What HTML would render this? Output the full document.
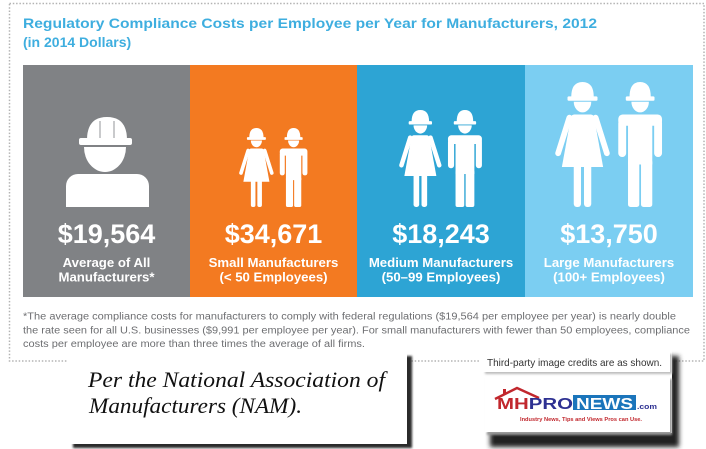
<!DOCTYPE html>
<html>
<head>
<meta charset="utf-8">
<style>
  html,body{margin:0;padding:0;background:#fff;}
  body{width:706px;height:449px;overflow:hidden;}
  svg{display:block;}
  .sans{font-family:"Liberation Sans",Arial,sans-serif;}
  .serif{font-family:"Liberation Serif","Times New Roman",serif;}
</style>
</head>
<body>
<svg width="706" height="449" viewBox="0 0 706 449" xmlns="http://www.w3.org/2000/svg">
  <defs>
    <filter id="blur3" x="-10%" y="-10%" width="120%" height="130%"><feGaussianBlur stdDeviation="2.5"/></filter>
    <filter id="blur1" x="-10%" y="-20%" width="120%" height="150%"><feGaussianBlur stdDeviation="1"/></filter>
    <symbol id="woman" viewBox="0 0 44 100">
      <path d="M13 12 Q13 0 22 0 Q31 0 31 12 Z" fill="#fff"/>
      <rect x="10" y="11.5" width="24" height="3.5" rx="1" fill="#fff"/>
      <path d="M15 15.8 H29 A7 8.5 0 0 1 15 15.8 Z" fill="#fff"/>
      <path d="M15.5 26 H28.5 Q30.8 26 31.3 28.5 L38.5 68 H5.5 L12.7 28.5 Q13.2 26 15.5 26 Z" fill="#fff"/>
      <line x1="11.5" y1="28.5" x2="2.5" y2="57" stroke="#fff" stroke-width="4.6" stroke-linecap="round"/>
      <line x1="32.5" y1="28.5" x2="41.5" y2="57" stroke="#fff" stroke-width="4.6" stroke-linecap="round"/>
      <rect x="15" y="64" width="5.8" height="36" rx="2.5" fill="#fff"/>
      <rect x="23.2" y="64" width="5.8" height="36" rx="2.5" fill="#fff"/>
    </symbol>
    <symbol id="man" viewBox="0 0 37 100">
      <path d="M10 12 Q10 0 18.5 0 Q27 0 27 12 Z" fill="#fff"/>
      <rect x="7" y="11.5" width="23" height="3.5" rx="1" fill="#fff"/>
      <path d="M11.5 15.8 H25.5 A7 8.5 0 0 1 11.5 15.8 Z" fill="#fff"/>
      <rect x="1" y="26" width="35" height="9" rx="3.5" fill="#fff"/>
      <rect x="1" y="30" width="6.3" height="30" rx="3" fill="#fff"/>
      <rect x="29.7" y="30" width="6.3" height="30" rx="3" fill="#fff"/>
      <rect x="8.8" y="30" width="19.4" height="36" fill="#fff"/>
      <rect x="8.8" y="62" width="9" height="38" rx="2" fill="#fff"/>
      <rect x="19.2" y="62" width="9" height="38" rx="2" fill="#fff"/>
    </symbol>
  </defs>

  <!-- dotted border -->
  <rect x="9.5" y="3.5" width="694.5" height="357.5" fill="none" stroke="#b3b3b3" stroke-width="1.5" stroke-dasharray="1.5 1.8"/>

  <!-- title -->
  <text class="sans" x="23" y="28" font-size="14" font-weight="bold" fill="#3eaedf" textLength="574" lengthAdjust="spacingAndGlyphs">Regulatory Compliance Costs per Employee per Year for Manufacturers, 2012</text>
  <text class="sans" x="23" y="47" font-size="14" font-weight="bold" fill="#3eaedf">(in 2014 Dollars)</text>

  <!-- panels -->
  <rect x="23" y="65" width="167" height="232" fill="#808285"/>
  <rect x="190" y="65" width="167" height="232" fill="#f37a21"/>
  <rect x="357" y="65" width="168" height="232" fill="#2da4d4"/>
  <rect x="525" y="65" width="168" height="232" fill="#7bcef2"/>

  <!-- gray worker icon -->
  <path d="M87 140 Q87 117 107 117 Q127 117 127 140 Z" fill="#fff"/>
  <line x1="100" y1="121" x2="100" y2="138" stroke="#a5a7aa" stroke-width="1.2"/>
  <line x1="114" y1="121" x2="114" y2="138" stroke="#a5a7aa" stroke-width="1.2"/>
  <rect x="79" y="138" width="53" height="7" rx="2" fill="#fff"/>
  <path d="M84 147 L126 147 A21 25 0 0 1 84 147 Z" fill="#fff"/>
  <rect x="66" y="174" width="83" height="33" rx="12" fill="#fff"/>
  <rect x="66" y="190" width="83" height="17" fill="#fff"/>

  <!-- people icons -->
  <use href="#woman" x="239" y="128" width="34.8" height="79"/>
  <use href="#man" x="279" y="128" width="29.2" height="79"/>
  <use href="#woman" x="399" y="110" width="42.7" height="97"/>
  <use href="#man" x="447" y="110" width="35.9" height="97"/>
  <use href="#woman" x="555" y="82" width="55" height="125"/>
  <use href="#man" x="617" y="82" width="46.3" height="125"/>

  <!-- numbers -->
  <g class="sans" font-size="27" font-weight="bold" fill="#fff" text-anchor="middle">
    <text x="106.5" y="243">$19,564</text>
    <text x="273.5" y="243">$34,671</text>
    <text x="441" y="243">$18,243</text>
    <text x="609" y="243">$13,750</text>
  </g>
  <g class="sans" font-size="13.2" font-weight="bold" fill="#fff" text-anchor="middle">
    <text x="106.5" y="267">Average of All</text>
    <text x="106.5" y="281.5">Manufacturers*</text>
    <text x="273.5" y="267">Small Manufacturers</text>
    <text x="273.5" y="281.5">(&lt; 50 Employees)</text>
    <text x="441" y="267">Medium Manufacturers</text>
    <text x="441" y="281.5">(50–99 Employees)</text>
    <text x="609" y="267">Large Manufacturers</text>
    <text x="609" y="281.5">(100+ Employees)</text>
  </g>

  <!-- footnote -->
  <g class="sans" font-size="10" fill="#6d6e71">
    <text x="23" y="319.5" textLength="653" lengthAdjust="spacingAndGlyphs">*The average compliance costs for manufacturers to comply with federal regulations ($19,564 per employee per year) is nearly double</text>
    <text x="23" y="333.3" textLength="667" lengthAdjust="spacingAndGlyphs">the rate seen for all U.S. businesses ($9,991 per employee per year). For small manufacturers with fewer than 50 employees, compliance</text>
    <text x="23" y="346.8" textLength="342" lengthAdjust="spacingAndGlyphs">costs per employee are more than three times the average of all firms.</text>
  </g>
  <rect x="15" y="348.6" width="400" height="6" fill="#fff"/>

  <!-- NAM box -->
  <rect x="73" y="356" width="339" height="92" fill="#2a2a2a" filter="url(#blur1)"/>
  <rect x="68" y="351" width="339" height="93" fill="#fff"/>
  <text class="serif" x="88" y="387" font-size="22" font-style="italic" fill="#111" textLength="297" lengthAdjust="spacingAndGlyphs">Per the National Association of</text>
  <text class="serif" x="89" y="413" font-size="22" font-style="italic" fill="#111" textLength="213" lengthAdjust="spacingAndGlyphs">Manufacturers (NAM).</text>

  <!-- credits + logo -->
  <rect x="490" y="356" width="189" height="91" fill="#222" filter="url(#blur3)"/>
  <rect x="479" y="349" width="193" height="84" fill="#fff"/>
  <rect x="485" y="354" width="187" height="20" fill="#bbb" filter="url(#blur1)"/>
  <rect x="483" y="352" width="187" height="20" fill="#fff"/>
  <text class="sans" x="487" y="366" font-size="10.5" fill="#333" textLength="175" lengthAdjust="spacingAndGlyphs">Third-party image credits are as shown.</text>
  <rect x="487" y="379" width="185" height="56" fill="#999" filter="url(#blur1)"/>
  <rect x="485" y="377" width="185" height="55" fill="#fff"/>
  <polyline points="495,399 517,388 539,398" fill="none" stroke="#c1272d" stroke-width="2.5"/>
  <rect x="503" y="389" width="3" height="6" fill="#c1272d"/>
  <text class="sans" x="497" y="409" font-size="16" font-weight="bold" textLength="76" lengthAdjust="spacingAndGlyphs"><tspan fill="#c1272d">MH</tspan><tspan fill="#2e3192">PRO</tspan></text>
  <rect x="573" y="395" width="63" height="15" fill="#1b75bb"/>
  <text class="sans" x="576" y="409" font-size="16" font-weight="bold" fill="#fff" textLength="57" lengthAdjust="spacingAndGlyphs">NEWS</text>
  <text class="sans" x="637" y="409" font-size="7" font-weight="bold" fill="#2e3192" textLength="20" lengthAdjust="spacingAndGlyphs">.com</text>
  <text class="sans" x="520" y="421" font-size="5" font-weight="bold" fill="#c1272d" textLength="122" lengthAdjust="spacingAndGlyphs">Industry News, Tips and Views Pros can Use.</text>
</svg>
</body>
</html>
